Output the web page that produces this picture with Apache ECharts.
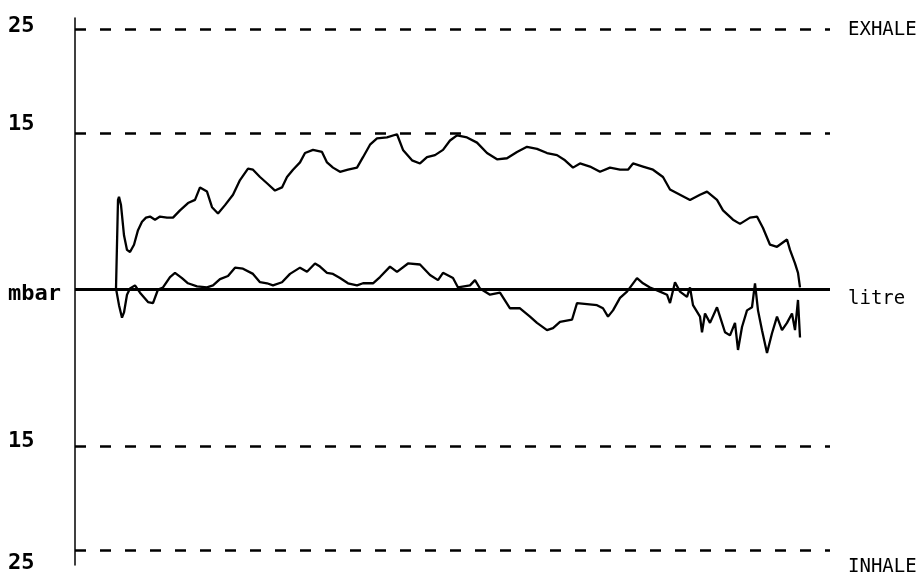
<!DOCTYPE html>
<html>
<head>
<meta charset="utf-8">
<script src="https://cdn.jsdelivr.net/npm/echarts@6/dist/echarts.min.js"></script>
<style>html,body{margin:0;padding:0;background:#fff}#c{width:922px;height:579px}</style>
</head>
<body>
<div id="c"></div>
<script>
// pressure trace (upper curve), time units and mbar
const upperT = [41,43,44,46,49,52,55,59,63,67,71,75,80,85,92,98,105,113,120,125,132,137,143,150,158,165,173,178,185,192,200,207,212,218,225,230,238,247,252,258,265,273,282,288,295,302,312,322,328,337,345,352,360,368,375,382,392,402,412,422,432,442,452,462,472,482,490,498,505,515,525,535,545,553,558,568,578,588,595,605,615,625,632,642,648,658,665,675,682,688,695,702,712,715,720,723,725];
const upperV = [0.1,8.6,8.9,8.1,5.2,3.8,3.6,4.3,5.7,6.5,6.9,7.0,6.7,7.0,6.9,6.9,7.6,8.3,8.6,9.8,9.4,7.9,7.3,8.1,9.1,10.5,11.6,11.5,10.8,10.2,9.5,9.8,10.8,11.5,12.2,13.1,13.4,13.2,12.2,11.7,11.3,11.5,11.7,12.7,13.9,14.5,14.6,14.9,13.4,12.4,12.1,12.7,12.9,13.4,14.3,14.8,14.6,14.1,13.1,12.5,12.6,13.2,13.7,13.5,13.1,12.9,12.4,11.7,12.1,11.8,11.3,11.7,11.5,11.5,12.1,11.8,11.5,10.8,9.6,9.1,8.6,9.1,9.4,8.6,7.6,6.7,6.3,6.9,7.0,5.9,4.3,4.1,4.8,3.8,2.5,1.6,0.2];
// flow trace (lower curve), litre
const lowerT = [41,44,47,49,52,55,60,65,73,78,83,88,95,100,107,113,122,132,138,145,153,160,168,178,185,192,198,207,215,225,232,240,245,252,258,265,273,282,288,298,305,315,322,333,345,355,363,368,378,383,395,400,405,415,425,435,445,455,462,472,478,485,497,502,512,522,528,533,538,545,552,562,568,575,585,592,595,600,605,612,615,618,625,627,630,635,642,645,650,655,660,663,667,672,677,680,683,687,692,697,702,707,712,717,720,723,725];
const lowerV = [0.1,-1.5,-2.7,-2.2,-0.5,0.1,0.4,-0.3,-1.2,-1.3,0.0,0.2,1.2,1.6,1.1,0.6,0.3,0.2,0.4,1.0,1.3,2.1,2.0,1.5,0.7,0.6,0.4,0.7,1.5,2.1,1.7,2.5,2.2,1.6,1.5,1.1,0.6,0.4,0.6,0.6,1.2,2.2,1.7,2.5,2.4,1.4,0.9,1.6,1.1,0.2,0.4,0.9,0.1,-0.5,-0.3,-1.8,-1.8,-2.6,-3.2,-3.9,-3.7,-3.1,-2.9,-1.3,-1.4,-1.5,-1.8,-2.6,-2.0,-0.8,-0.2,1.1,0.6,0.2,-0.2,-0.5,-1.3,0.7,-0.2,-0.7,0.2,-1.5,-2.6,-4.1,-2.3,-3.2,-1.7,-2.6,-4.1,-4.4,-3.2,-5.8,-3.6,-2.0,-1.7,0.6,-2.0,-3.9,-6.1,-4.2,-2.6,-3.9,-3.2,-2.3,-3.9,-1.0,-4.6];
// axis texts
const leftTickValues = [25, 15, 0, -15, -25];
const leftTickLabels = ['25', '15', 'mbar', '15', '25'];
const rightTickValues = [25, 0, -25];
const rightTickLabels = ['EXHALE', 'litre', 'INHALE'];
const dashedLevels = [25, 15, -15, -25];
const zeroLevel = 0;

const zip = (a, b) => a.map((t, i) => [t, b[i]]);
const leftRich = ['l0','l1','l2','l3','l4'];
const rightRich = ['r0','r1','r2'];

const chart = echarts.init(document.getElementById('c'), null, {renderer: 'canvas'});
const monoBold = {fontFamily: 'DejaVu Sans Mono', fontWeight: 'bold', fontSize: 22, color: '#000'};
const mono = {fontFamily: 'DejaVu Sans Mono', fontWeight: 'normal', fontSize: 19, color: '#000'};
chart.setOption({
  animation: false,
  backgroundColor: '#fff',
  grid: {left: 75, right: 92, top: 18, bottom: 14},
  xAxis: {type: 'value', min: 0, max: 755, show: false},
  yAxis: [{
    type: 'value', min: -26.44, max: 26.06, position: 'left',
    axisLine: {show: true, onZero: false, lineStyle: {color: '#000', width: 1.5}},
    axisTick: {show: false},
    splitLine: {show: false},
    axisLabel: {
      customValues: leftTickValues,
      align: 'left', margin: 67,
      formatter: v => { const i = leftTickValues.indexOf(v); return i < 0 ? '' : '{' + leftRich[i] + '|' + leftTickLabels[i] + '}'; },
      rich: {
        l0: Object.assign({padding: [0,0,6,0]}, monoBold),
        l1: Object.assign({padding: [0,0,18,0]}, monoBold),
        l2: Object.assign({padding: [10,0,0,0]}, monoBold),
        l3: Object.assign({padding: [0,0,10,0]}, monoBold),
        l4: Object.assign({padding: [26,0,0,0]}, monoBold)
      }
    }
  }, {
    type: 'value', min: -26.44, max: 26.06, position: 'right',
    axisLine: {show: false}, axisTick: {show: false}, splitLine: {show: false},
    axisLabel: {
      customValues: rightTickValues,
      align: 'left', margin: 18,
      formatter: v => { const i = rightTickValues.indexOf(v); return i < 0 ? '' : '{' + rightRich[i] + '|' + rightTickLabels[i] + '}'; },
      rich: {
        r0: Object.assign({padding: [2,0,0,0]}, mono),
        r1: Object.assign({padding: [20,0,0,0]}, mono),
        r2: Object.assign({padding: [34,0,0,0]}, mono)
      }
    }
  }],
  series: [{
    name: 'pressure', type: 'line', data: zip(upperT, upperV), symbol: 'none',
    lineStyle: {color: '#000', width: 2.3}, z: 3,
    markLine: {
      silent: true, symbol: 'none', label: {show: false},
      lineStyle: {color: '#000', type: [11, 14], width: 2.5},
      data: dashedLevels.map(v => ({yAxis: v})).concat([{yAxis: zeroLevel, lineStyle: {type: 'solid', width: 3, color: '#000'}}])
    }
  }, {
    name: 'flow', type: 'line', data: zip(lowerT, lowerV), symbol: 'none',
    lineStyle: {color: '#000', width: 2.3}, z: 3
  }]
});
</script>
</body>
</html>
